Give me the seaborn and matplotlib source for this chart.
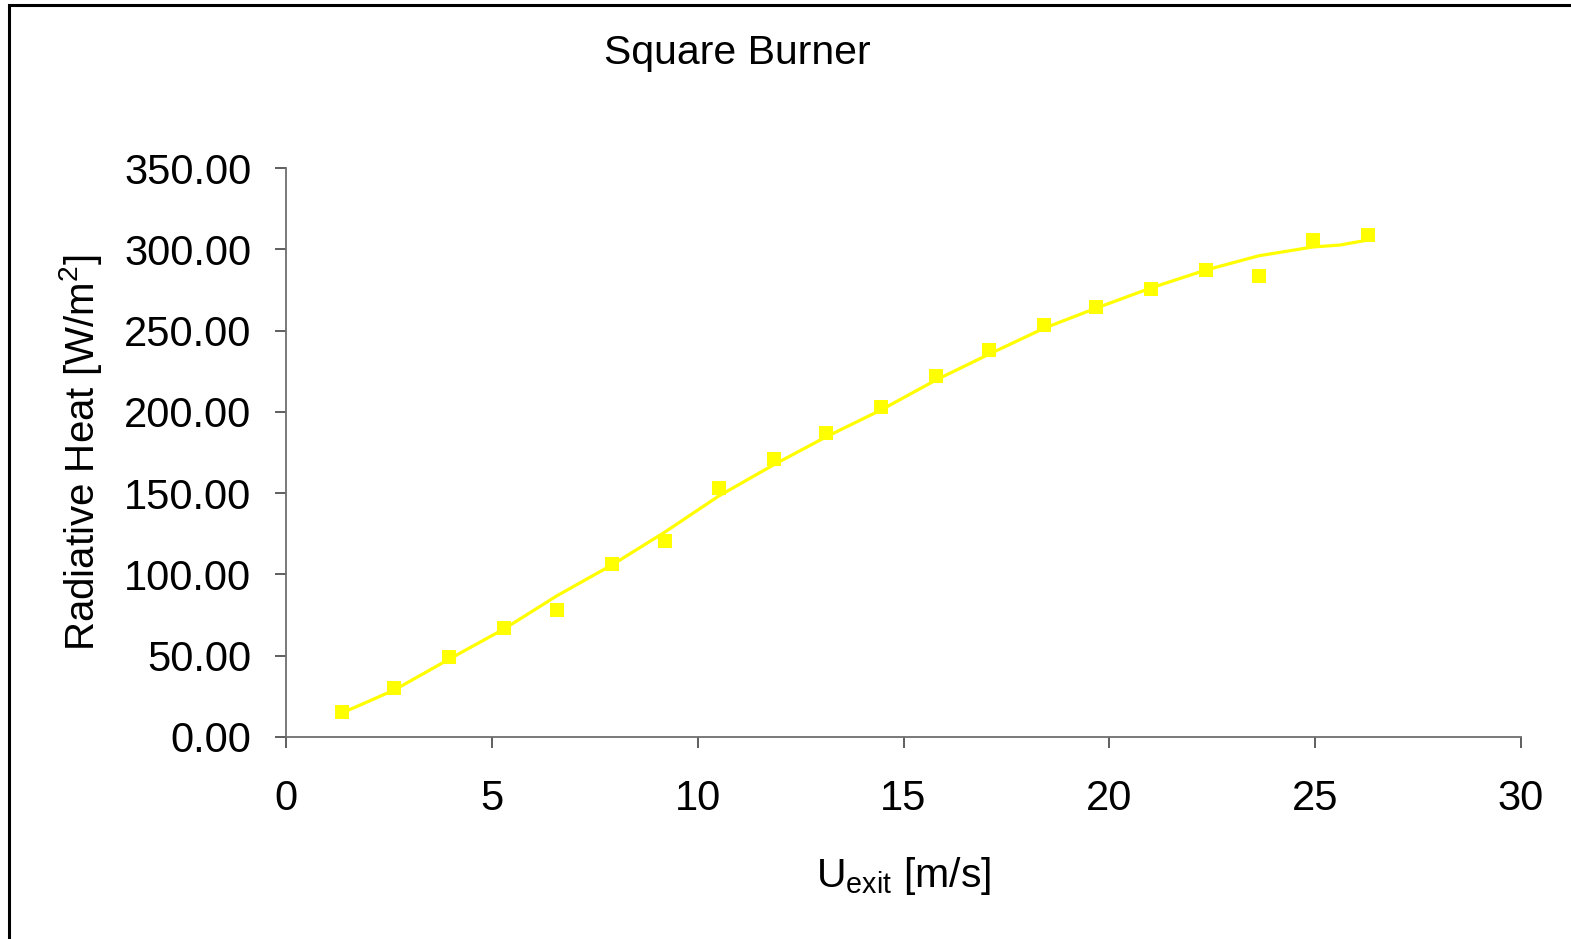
import matplotlib
matplotlib.use("Agg")
import matplotlib.pyplot as plt
import seaborn as sns
import pandas as pd
from matplotlib.patches import Rectangle

# Measured radiative heat flux against burner exit velocity
u_exit = [1.36, 2.63, 3.97, 5.30, 6.59, 7.93, 9.20, 10.51, 11.85, 13.11,
          14.45, 15.79, 17.08, 18.42, 19.68, 21.02, 22.34, 23.63, 24.94, 26.28]
rad_heat = [15.4, 30.1, 49.2, 67.0, 78.1, 106.4, 120.5, 153.1, 171.0, 187.0,
            203.0, 222.0, 238.0, 253.4, 264.5, 275.5, 287.2, 283.5, 305.7, 308.7]

# Smoothed trend through the measurements
trend_u = [1.36, 1.75, 2.63, 3.97, 5.30, 6.59, 7.93, 9.20, 10.51, 11.85, 13.11,
           14.45, 15.79, 17.08, 18.42, 19.68, 21.02, 22.34, 23.63, 24.94, 25.6, 26.28]
trend_q = [14.8, 19.1, 28.9, 48.0, 66.5, 87.0, 106.0, 126.0, 148.2, 167.5, 184.5,
           201.1, 219.6, 235.5, 251.5, 263.8, 276.3, 287.2, 296.0, 301.4, 302.6, 305.7]

x_ticks = [0, 5, 10, 15, 20, 25, 30]
y_ticks = [0, 50, 100, 150, 200, 250, 300, 350]

sns.set_theme(style="white")
plt.rcParams["font.family"] = ["Liberation Sans", "DejaVu Sans"]
plt.rcParams["mathtext.fontset"] = "custom"
plt.rcParams["mathtext.rm"] = "Liberation Sans"
plt.rcParams["mathtext.it"] = "Liberation Sans"

fig = plt.figure(figsize=(15.71, 9.39), dpi=100)
ax = fig.add_axes([286 / 1571, 1 - 737 / 939, (1521 - 286) / 1571, (737 - 168) / 939])

pts = pd.DataFrame({"u": u_exit, "q": rad_heat})
trend = pd.DataFrame({"u": trend_u, "q": trend_q})

sns.lineplot(data=trend, x="u", y="q", ax=ax, color="#FFFF00", linewidth=2.3,
             sort=False, estimator=None)
sns.scatterplot(data=pts, x="u", y="q", ax=ax, color="#FFFF00", marker="s",
                s=105, linewidth=0, zorder=3)

ax.set_xlim(0, 30)
ax.set_ylim(0, 350)
ax.set_xticks(x_ticks)
ax.set_yticks(y_ticks)
ax.set_xticklabels([str(v) for v in x_ticks])
ax.set_yticklabels([f"{v:.2f}" for v in y_ticks])

for side in ("top", "right"):
    ax.spines[side].set_visible(False)
for side in ("left", "bottom"):
    ax.spines[side].set_color("#6e6e6e")
    ax.spines[side].set_linewidth(1.3)

ax.tick_params(axis="both", direction="out", length=8, width=1.1, color="#333333",
               labelsize=30, labelcolor="black")
ax.tick_params(axis="y", pad=17)
ax.tick_params(axis="x", pad=22)
ax.tick_params(bottom=True, left=True)

ax.set_xlabel(r"U$_{\mathrm{exit}}$ [m/s]", fontsize=29.5, labelpad=26, color="black")
ax.set_ylabel(r"Radiative Heat [W/m$^{2}$]", fontsize=29, labelpad=14, color="black")

fig.text(737 / 1571, 1 - 53 / 939, "Square Burner", fontsize=29.5, ha="center",
         va="center", color="black")

# Chart area frame
fig.patches.append(Rectangle((9 / 1571, -0.05), 1.1, 1 - 5 / 939 + 0.05,
                             transform=fig.transFigure, fill=False,
                             edgecolor="black", linewidth=2.2))

fig.savefig("out.png", dpi=100, facecolor="white")
